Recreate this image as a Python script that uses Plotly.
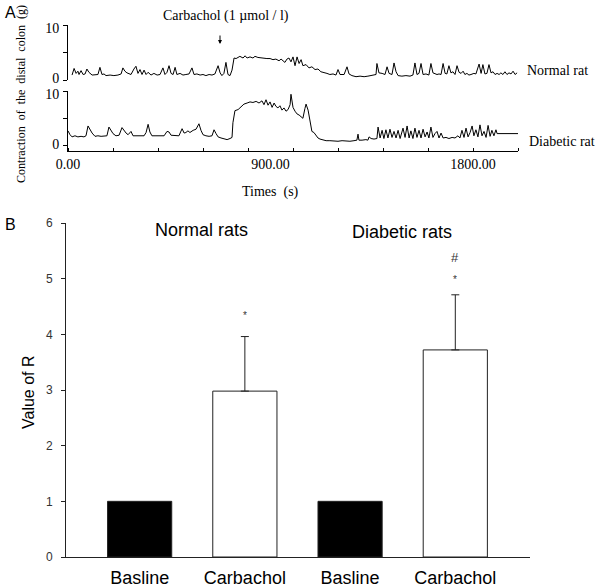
import plotly.graph_objects as go

W, H = 600, 588

# ---------------- Panel A data (time in s, contraction in g) ----------------
normal_t = [18, 27, 36, 44, 49, 58, 67, 76, 84, 93, 107, 120, 133, 142, 151, 160, 169, 187, 204, 222,
            236, 244, 253, 262, 271, 280, 293, 302, 311, 320, 329, 338, 347, 356, 369, 382, 396, 409,
            422, 431, 440, 449, 458, 467, 476, 484, 498, 511, 524, 538, 551, 560, 573, 587, 600, 613,
            627, 640, 653, 667, 676, 684, 693, 702, 711, 720, 729, 738, 747, 756, 764, 778, 787, 796,
            809, 822, 831, 844, 858, 871, 884, 898, 911, 924, 938, 947, 956, 964, 973, 982, 991, 1000,
            1009, 1018, 1027, 1036, 1044, 1058, 1071, 1084, 1098, 1111, 1124, 1138, 1151, 1164, 1178,
            1191, 1200, 1209, 1227, 1240, 1249, 1262, 1280, 1298, 1316, 1333, 1351, 1369, 1373, 1382,
            1396, 1409, 1418, 1427, 1440, 1449, 1458, 1467, 1484, 1502, 1520, 1533, 1542, 1551, 1560,
            1569, 1578, 1591, 1604, 1613, 1622, 1631, 1640, 1649, 1658, 1667, 1676, 1684, 1693, 1702,
            1711, 1720, 1729, 1738, 1747, 1756, 1764, 1773, 1782, 1791, 1804, 1813, 1827, 1836, 1844,
            1853, 1862, 1871, 1880, 1889, 1898, 1907, 1916, 1924, 1933, 1942, 1951, 1960, 1969, 1978,
            1987, 1996]
normal_v = [0.9, 2.1, 1.2, 1.6, 1.0, 1.7, 1.0, 1.1, 2.0, 1.4, 0.9, 1.0, 1.0, 2.3, 1.0, 1.1, 0.8, 0.9, 0.8, 0.9,
            1.1, 2.2, 1.6, 1.3, 1.2, 1.0, 2.0, 2.5, 1.2, 1.9, 1.0, 1.8, 1.0, 1.4, 0.9, 1.2, 0.9, 1.0,
            2.2, 1.0, 1.4, 2.6, 1.2, 1.0, 2.3, 1.0, 1.2, 0.9, 1.0, 1.1, 2.2, 1.0, 1.1, 0.9, 1.0, 0.8,
            1.0, 0.9, 1.1, 2.6, 1.3, 0.8, 1.2, 3.2, 1.0, 0.8, 1.8, 4.0, 3.9, 4.1, 4.3, 4.0, 4.4, 4.0,
            4.2, 4.0, 4.3, 4.1, 4.0, 4.0, 3.9, 3.9, 3.7, 3.8, 3.5, 3.8, 3.4, 3.2, 3.8, 4.0, 3.3, 4.2,
            2.6, 4.2, 3.0, 3.7, 2.6, 2.8, 2.2, 2.4, 1.9, 2.0, 1.5, 1.4, 1.2, 1.0, 1.1,
            0.9, 1.9, 1.0, 1.0, 2.4, 1.1, 0.8, 0.6, 0.7, 0.6, 0.7, 0.8, 1.0, 3.0, 1.3,
            1.2, 1.0, 2.4, 1.2, 1.0, 3.1, 1.5, 0.8, 0.7, 0.8, 0.7, 0.9, 3.1, 1.0, 1.2,
            3.0, 1.0, 1.1, 0.9, 3.0, 1.3, 1.1, 1.0, 1.1, 1.0, 3.0, 1.2, 1.1, 2.6, 1.3,
            1.5, 1.0, 2.6, 1.4, 1.2, 1.6, 1.0, 1.2, 0.9, 1.0, 1.2, 1.1, 2.9, 1.2, 2.8,
            1.1, 1.2, 2.8, 1.3, 1.5, 1.0, 1.2, 1.0, 1.3, 1.0, 1.5, 1.0, 1.3, 1.1, 1.6,
            1.0, 1.3]

diabetic_t = [0, 9, 18, 31, 44, 58, 71, 80, 89, 98, 107, 120, 133, 147, 160, 173, 182, 191, 200, 213,
              227, 240, 249, 258, 267, 280, 289, 302, 320, 338, 347, 356, 364, 373, 391, 409, 427, 440,
              449, 458, 476, 493, 507, 516, 524, 533, 542, 556, 569, 582, 591, 600, 613, 627, 640, 649,
              658, 667, 680, 693, 707, 720, 729, 733, 742, 756, 769, 782, 796, 809, 822, 836, 849, 862,
              871, 880, 889, 898, 907, 916, 924, 933, 942, 951, 960, 969, 978, 987, 991, 1000, 1009,
              1018, 1027, 1036, 1044, 1053, 1058, 1067, 1076, 1084, 1093, 1102, 1111, 1120, 1133, 1147,
              1164, 1182, 1200, 1218, 1236, 1253, 1271, 1284, 1289, 1293, 1307, 1324, 1333, 1338, 1347,
              1360, 1373, 1378, 1387, 1396, 1404, 1413, 1422, 1431, 1440, 1449, 1458, 1467, 1476, 1489,
              1498, 1507, 1516, 1524, 1533, 1542, 1551, 1560, 1569, 1578, 1587, 1596, 1604, 1613, 1622,
              1631, 1640, 1649, 1658, 1667, 1680, 1693, 1707, 1720, 1733, 1742, 1751, 1760, 1769, 1778,
              1787, 1796, 1804, 1813, 1822, 1831, 1840, 1849, 1858, 1867, 1876, 1884, 1893, 1902, 1907,
              1920, 1942, 1964, 1987, 2000]
diabetic_v = [2.7, 2.0, 1.6, 1.8, 1.6, 1.7, 1.6, 1.8, 3.6, 2.8, 2.3, 1.7, 1.8, 1.7, 1.8, 1.8, 3.4, 2.8, 2.2, 1.8,
              1.9, 3.3, 2.7, 2.3, 2.0, 2.6, 1.8, 1.8, 1.8, 1.8, 2.4, 3.9, 2.5, 1.8, 1.8, 1.8, 1.8, 2.6,
              2.5, 1.9, 1.8, 1.8, 3.1, 2.3, 2.4, 2.7, 2.4, 2.8, 3.0, 4.0, 2.8, 2.0, 1.8, 1.7, 1.8, 2.9,
              2.2, 1.6, 1.4, 1.2, 1.1, 1.3, 1.5, 4.2, 6.4, 6.6, 7.2, 7.6, 7.8, 8.0, 7.9, 8.1, 7.8, 8.2,
              7.5, 8.4, 7.4, 8.0, 7.0, 7.8, 7.2, 6.9, 7.3, 6.5, 6.9, 6.3, 6.6, 7.5, 9.4, 7.0, 6.3,
              5.8, 5.6, 5.2, 5.0, 6.8, 7.6, 6.5, 4.5, 2.6, 2.4, 1.8, 1.4, 1.2, 1.0, 0.9,
              0.9, 0.8, 0.8, 0.9, 0.8, 0.8, 0.9, 1.0, 2.1, 1.0, 1.0, 1.1, 1.0, 1.6, 1.3,
              1.2, 1.3, 3.4, 1.4, 2.8, 1.3, 2.9, 1.4, 3.0, 1.5, 2.6, 1.4, 2.8, 1.3, 3.2,
              1.5, 3.6, 1.4, 2.7, 1.3, 3.2, 1.5, 2.8, 1.4, 3.0, 1.6, 2.5, 1.4, 3.4, 1.5,
              2.2, 2.6, 1.4, 2.3, 1.4, 1.5, 1.3, 1.5, 1.4, 1.8, 1.4, 2.8, 1.5, 3.2, 1.6,
              2.4, 3.6, 1.8, 2.9, 1.6, 3.8, 1.8, 2.6, 1.5, 3.7, 1.7, 2.8, 1.8, 2.9, 2.2,
              2.2, 2.3, 2.2, 2.3, 2.2]

time_tickvals = [0, 900, 1800]
time_ticktext = ["0.00", "900.00", "1800.00"]
time_minor_ticks = [0, 200, 400, 600, 800, 1000, 1200, 1400, 1600, 1800, 2000]
force_ticks = [0, 5, 10]
force_label_pos = [0.35, 9.5]
force_label_text = ["0", "10"]

# ---------------- Panel B data ----------------
bar_pos = [0, 1, 2, 3]
bar_labels = ["Basline", "Carbachol", "Basline", "Carbachol"]
baseline_pos = [0, 2]
baseline_vals = [1.0, 1.0]
carbachol_pos = [1, 3]
carbachol_vals = [2.98, 3.72]
carbachol_err = [0.98, 0.99]
r_ticks = [0, 1, 2, 3, 4, 5, 6]

SERIF = "Liberation Serif"
SANS = "Liberation Sans"


def px_x(p):
    return p / W


def px_y(p):
    return 1 - p / H


fig = go.Figure()

fig.add_trace(go.Scatter(x=normal_t, y=normal_v, mode="lines", xaxis="x", yaxis="y",
                         line=dict(color="black", width=1), showlegend=False))
fig.add_trace(go.Scatter(x=diabetic_t, y=diabetic_v, mode="lines", xaxis="x2", yaxis="y2",
                         line=dict(color="black", width=1), showlegend=False))

fig.add_trace(go.Bar(x=baseline_pos, y=baseline_vals, xaxis="x3", yaxis="y3", width=0.61,
                     marker=dict(color="black", line=dict(color="#222", width=1)), showlegend=False))
fig.add_trace(go.Bar(x=carbachol_pos, y=carbachol_vals, xaxis="x3", yaxis="y3", width=0.61,
                     marker=dict(color="white", line=dict(color="#222", width=1)), showlegend=False,
                     error_y=dict(type="data", array=carbachol_err, arrayminus=[0, 0], symmetric=False,
                                  color="#222", thickness=1, width=4)))

common = dict(automargin=False, showgrid=False, zeroline=False)
force_axis = dict(showline=True, linecolor="black", linewidth=1,
                  tickvals=force_label_pos, ticktext=force_label_text, ticks="",
                  ticklabelstandoff=5,
                  minor=dict(tickmode="array", tickvals=force_ticks, ticks="outside", ticklen=4,
                             tickcolor="black", tickwidth=1, showgrid=False),
                  tickfont=dict(family=SERIF, size=14, color="black"), **common)
xdom = [px_x(68), px_x(518)]
fig.update_layout(
    template="none",
    width=W, height=H,
    margin=dict(l=0, r=0, t=0, b=0, pad=0),
    paper_bgcolor="white", plot_bgcolor="rgba(0,0,0,0)",
    barmode="overlay", showlegend=False,
    xaxis=dict(domain=xdom, range=[0, 2000], visible=False, anchor="y", **common),
    yaxis=dict(domain=[px_y(80), px_y(25)], range=[0, 10], anchor="x", **force_axis),
    xaxis2=dict(domain=xdom, range=[0, 2000], anchor="y2",
                showline=True, linecolor="black", linewidth=1,
                tickvals=time_tickvals, ticktext=time_ticktext, ticks="",
                minor=dict(tickmode="array", tickvals=time_minor_ticks, ticks="inside", ticklen=3,
                           tickcolor="black", tickwidth=1, showgrid=False),
                tickfont=dict(family=SERIF, size=14, color="black"), **common),
    yaxis2=dict(domain=[px_y(150.7), px_y(91)], range=[-0.93, 10], anchor="x2", **force_axis),
    xaxis3=dict(domain=[px_x(66), px_x(530)], range=[-0.7, 3.71], anchor="y3",
                showline=True, linecolor="#222", linewidth=1,
                tickvals=bar_pos, ticktext=bar_labels, ticks="", ticklabelstandoff=4,
                tickfont=dict(family=SANS, size=18, color="black"), **common),
    yaxis3=dict(domain=[px_y(557), px_y(223)], range=[0, 6], anchor="x3",
                showline=True, linecolor="#222", linewidth=1,
                tickvals=r_ticks, ticks="outside", ticklen=4, tickcolor="#222", ticklabelstandoff=6,
                tickfont=dict(family=SANS, size=12, color="#333"), **common),
)

ann = []
# Panel labels
ann.append(dict(x=px_x(10), y=px_y(13), text="A", font=dict(family=SANS, size=16, color="black")))
ann.append(dict(x=px_x(10), y=px_y(224), text="B", font=dict(family=SANS, size=16, color="black")))
# Panel A texts
ann.append(dict(x=px_x(226), y=px_y(16), text="Carbachol (1 µmol / l)",
                font=dict(family=SERIF, size=14, color="black")))
ann.append(dict(x=px_x(525), y=px_y(70), text="Normal rat", xanchor="left",
                font=dict(family=SERIF, size=14, color="black")))
ann.append(dict(x=px_x(527), y=px_y(141), text="Diabetic rat", xanchor="left",
                font=dict(family=SERIF, size=14, color="black")))
ann.append(dict(x=px_x(270), y=px_y(192), text="Times  (s)",
                font=dict(family=SERIF, size=14, color="black")))
ann.append(dict(x=px_x(21), y=px_y(94), text="Contraction  of  the  distal  colon  (g)", textangle=-90,
                font=dict(family=SERIF, size=12, color="black")))
# Panel B texts
ann.append(dict(x=px_x(28), y=px_y(392), text="Value of R", textangle=-90,
                font=dict(family=SANS, size=16, color="black")))
for a in ann:
    a.setdefault("xanchor", "center")
    a.update(xref="paper", yref="paper", showarrow=False, yanchor="middle")

# Carbachol arrow
ann.append(dict(xref="paper", yref="paper", x=px_x(220), y=px_y(44), ax=0, ay=-10, axref="pixel",
                ayref="pixel", text="", showarrow=True, arrowhead=2, arrowsize=0.8, arrowwidth=1,
                arrowcolor="black"))
# Group labels and significance marks in bar data coordinates
ann.append(dict(xref="x3", yref="y3", x=0.59, y=5.88, text="Normal rats", showarrow=False,
                font=dict(family=SANS, size=18, color="black")))
ann.append(dict(xref="x3", yref="y3", x=2.49, y=5.84, text="Diabetic rats", showarrow=False,
                font=dict(family=SANS, size=18, color="black")))
ann.append(dict(xref="x3", yref="y3", x=1, y=4.34, text="*", showarrow=False,
                font=dict(family=SANS, size=10, color="#333")))
ann.append(dict(xref="x3", yref="y3", x=3, y=4.98, text="*", showarrow=False,
                font=dict(family=SANS, size=10, color="#333")))
ann.append(dict(xref="x3", yref="y3", x=3, y=5.38, text="#", showarrow=False,
                font=dict(family=SANS, size=13, color="#333")))
fig.update_layout(annotations=ann)

fig.write_html("out.html", config={"displayModeBar": False},
               post_script="document.body.style.margin='0';")
